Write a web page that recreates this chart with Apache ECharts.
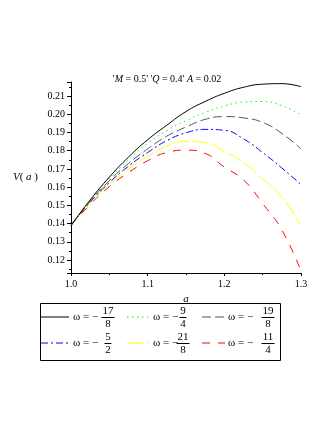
<!DOCTYPE html>
<html>
<head>
<meta charset="utf-8">
<script src="https://cdn.jsdelivr.net/npm/echarts@6/dist/echarts.min.js"></script>
<style>
  html, body { margin: 0; padding: 0; background: #fff; }
  #chart { width: 332px; height: 430px; }
</style>
</head>
<body>
<div id="chart"></div>
<script>
// a values (x axis)
const aVals = [1.0, 1.025, 1.05, 1.075, 1.1, 1.125, 1.15, 1.175, 1.2, 1.225, 1.25, 1.275, 1.3];

// V(a) for each omega
const v_17_8 = [0.139, 0.153, 0.1655, 0.1765, 0.186, 0.194, 0.2015, 0.207, 0.2115, 0.2148, 0.2165, 0.2168, 0.2151];
const v_9_4  = [0.139, 0.1525, 0.1645, 0.175, 0.184, 0.191, 0.1965, 0.201, 0.2045, 0.2067, 0.207, 0.2047, 0.1997];
const v_19_8 = [0.139, 0.1522, 0.1635, 0.173, 0.181, 0.188, 0.193, 0.1972, 0.1987, 0.198, 0.1955, 0.1895, 0.181];
const v_5_2  = [0.139, 0.1518, 0.1625, 0.1715, 0.179, 0.1855, 0.1898, 0.1917, 0.1912, 0.1865, 0.179, 0.1705, 0.1615];
const v_21_8 = [0.139, 0.1512, 0.1615, 0.170, 0.177, 0.1825, 0.1852, 0.1845, 0.1795, 0.1735, 0.1645, 0.1545, 0.139];
const v_11_4 = [0.139, 0.1505, 0.1603, 0.168, 0.1745, 0.179, 0.1803, 0.1785, 0.171, 0.164, 0.151, 0.1365, 0.114];

// legend labels: numerator / denominator of -omega
const numerators = ['17', '9', '19', '5', '21', '11'];
const denominators = ['8', '4', '8', '2', '8', '4'];

const allV = [v_17_8, v_9_4, v_19_8, v_5_2, v_21_8, v_11_4];
const colors = ['#000000', '#00ff00', '#5e4a5e', '#0000ff', '#ffff00', '#ff0000'];
const dashes = ['solid', [1.5, 3.5], [9, 4], [7, 3, 2, 3], [16, 3], [8, 8]];

const serif = '"Liberation Serif", "DejaVu Serif", serif';

const series = allV.map((vals, i) => ({
  name: 'ω = -' + numerators[i] + '/' + denominators[i],
  type: 'line',
  data: aVals.map((a, j) => [a, vals[j]]),
  smooth: 0.5,
  symbol: 'none',
  lineStyle: { color: colors[i], width: 1, type: dashes[i] },
  z: 10 - i
}));

// legend drawn by hand so the fractions stack
const sampleX = [[41, 69], [127, 148], [202, 225]];
const labelX = [73, 153, 228];
const fracX = [108, 183, 268];
const rowY = [317, 343];
const legendGraphics = [{
  type: 'rect',
  shape: { x: 40.5, y: 303.5, width: 240, height: 57 },
  style: { fill: 'none', stroke: '#000', lineWidth: 1 }
}];
numerators.forEach((num, i) => {
  const col = i % 3, row = Math.floor(i / 3);
  const y = rowY[row];
  const w = num.length > 1 ? 13 : 7;
  legendGraphics.push(
    { type: 'line', shape: { x1: sampleX[col][0], y1: y, x2: sampleX[col][1], y2: y },
      style: { stroke: colors[i], lineWidth: 1, lineDash: dashes[i] === 'solid' ? null : dashes[i] } },
    { type: 'text', x: labelX[col], y: y + 0.5,
      style: { text: 'ω = −', font: '11px ' + serif, fill: '#000', textVerticalAlign: 'middle' } },
    { type: 'text', x: fracX[col], y: y - 6,
      style: { text: num, font: '11px ' + serif, fill: '#000', textAlign: 'center', textVerticalAlign: 'middle' } },
    { type: 'line', shape: { x1: fracX[col] - w / 2, y1: y + 0.5, x2: fracX[col] + w / 2, y2: y + 0.5 },
      style: { stroke: '#000', lineWidth: 1 } },
    { type: 'text', x: fracX[col], y: y + 7,
      style: { text: denominators[i], font: '11px ' + serif, fill: '#000', textAlign: 'center', textVerticalAlign: 'middle' } }
  );
});

const chart = echarts.init(document.getElementById('chart'));
chart.setOption({
  animation: false,
  title: {
    text: "'{i|M} = 0.5' '{i|Q} = 0.4' {i|A} = 0.02",
    left: 162,
    top: 69,
    textAlign: 'center',
    textStyle: {
      fontFamily: serif, fontSize: 10, fontWeight: 'normal', color: '#000',
      rich: { i: { fontFamily: serif, fontSize: 10, fontStyle: 'italic', color: '#000' } }
    }
  },
  grid: { left: 71, right: 31, top: 82, bottom: 157 },
  xAxis: {
    type: 'value',
    min: 1.0,
    max: 1.3,
    interval: 0.1,
    name: 'a',
    nameLocation: 'middle',
    nameGap: 21,
    nameTextStyle: { fontFamily: serif, fontSize: 11, fontStyle: 'italic', color: '#000' },
    axisLine: { lineStyle: { color: '#000', width: 1 } },
    axisTick: { length: 3, lineStyle: { color: '#000' } },
    minorTick: { show: true, splitNumber: 2, length: 2, lineStyle: { color: '#000' } },
    splitLine: { show: false },
    axisLabel: { fontFamily: serif, fontSize: 10, color: '#000', margin: 6,
      formatter: v => v.toFixed(1) }
  },
  yAxis: {
    type: 'value',
    min: 0.1129,
    max: 0.2177,
    splitNumber: 10,
    name: '{i|V}( {i|a} )',
    nameLocation: 'middle',
    nameRotate: 0,
    nameGap: 33,
    nameTextStyle: {
      fontFamily: serif, fontSize: 11, color: '#000',
      rich: { i: { fontFamily: serif, fontSize: 11, fontStyle: 'italic', color: '#000' } }
    },
    axisLine: { show: true, lineStyle: { color: '#000', width: 1 } },
    axisTick: { show: true, length: 4, lineStyle: { color: '#000' } },
    minorTick: { show: true, splitNumber: 2, length: 2, lineStyle: { color: '#000' } },
    splitLine: { show: false },
    axisLabel: { fontFamily: serif, fontSize: 10, color: '#000', margin: 6,
      showMinLabel: false, showMaxLabel: false,
      formatter: v => v.toFixed(2) }
  },
  graphic: legendGraphics,
  series: series
});
</script>
</body>
</html>
